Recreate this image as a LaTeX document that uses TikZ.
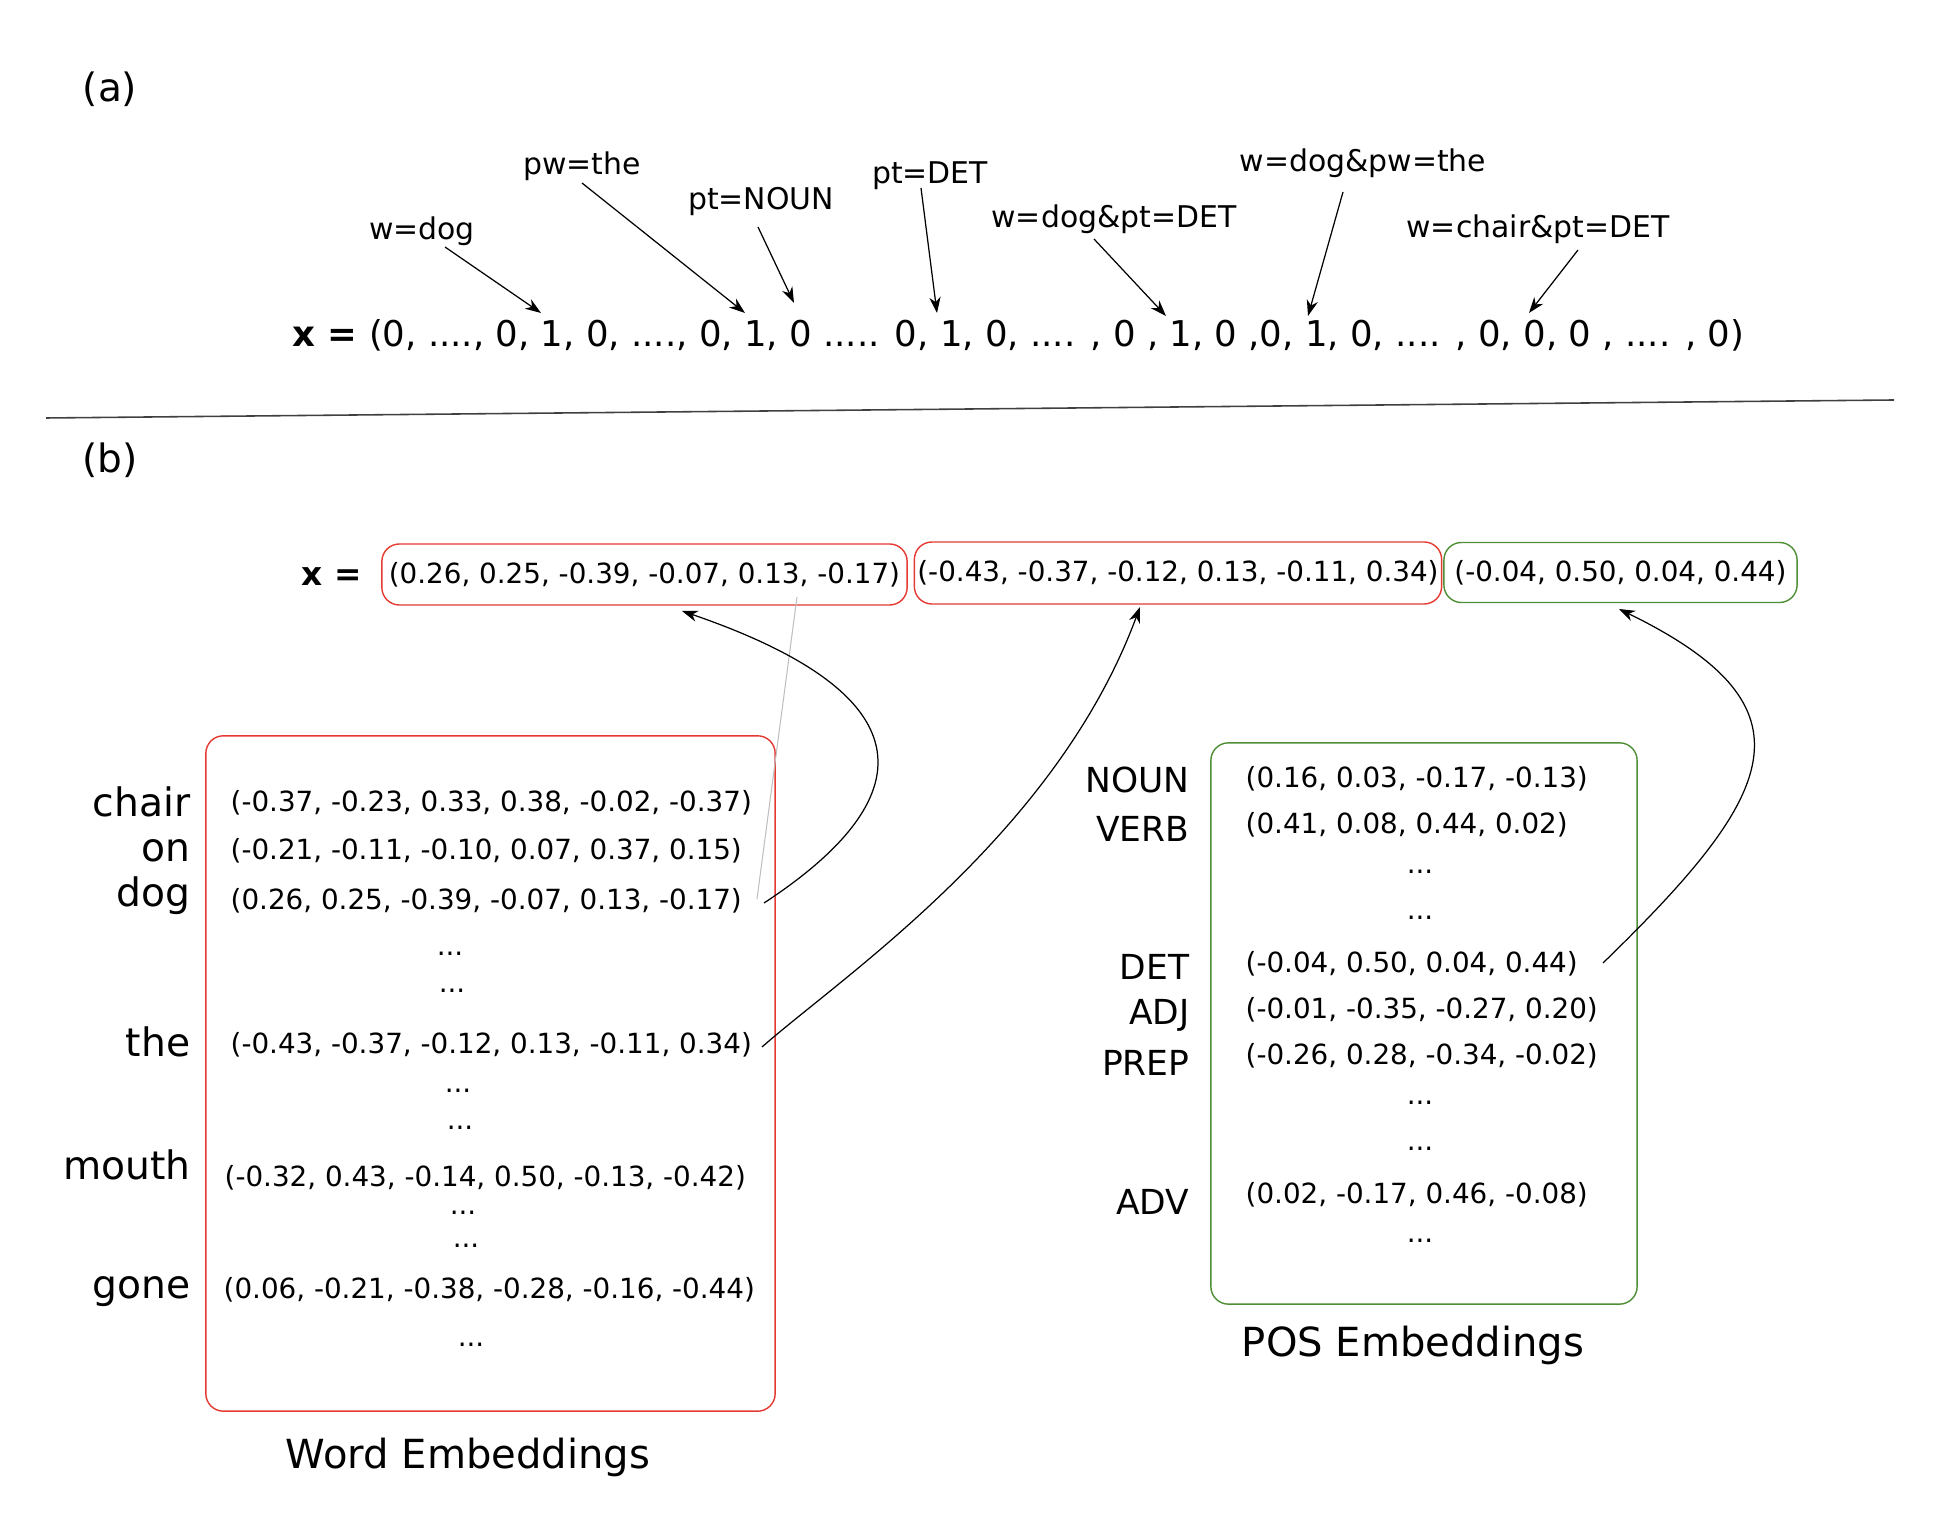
\documentclass[tikz,border=0pt]{standalone}
\usepackage{fontspec}
\setmainfont{DejaVu Sans}
\usepackage{xcolor}
\usepackage{tikz}
\usetikzlibrary{arrows.meta,positioning}
\definecolor{embred}{RGB}{228,58,50}
\definecolor{embgreen}{RGB}{78,142,52}

\begin{document}
\begin{tikzpicture}[x=0.01cm,y=-0.01cm]
\tikzstyle{feat} = [font=\fontsize{8.5}{10}\selectfont, inner sep=0pt, anchor=base]
\tikzstyle{vecrow} = [font=\fontsize{7.9}{9.5}\selectfont, inner sep=0pt, anchor=base west]
\tikzstyle{dotrow} = [font=\fontsize{7.9}{9.5}\selectfont, inner sep=0pt, anchor=base]
\tikzstyle{wordlbl} = [font=\fontsize{11.15}{13}\selectfont, inner sep=0pt, anchor=base east]
\tikzstyle{poslbl} = [font=\fontsize{9.8}{12}\selectfont, inner sep=0pt, anchor=base east]
\tikzstyle{embtitle} = [font=\fontsize{11.4}{14}\selectfont, inner sep=0pt, anchor=base]
\tikzstyle{part} = [font=\fontsize{11.1}{13}\selectfont, inner sep=0pt, anchor=base]
\tikzstyle{redbox} = [draw=embred, rounded corners=5pt, line width=0.4pt, inner sep=0pt]
\tikzstyle{greenbox} = [draw=embgreen, rounded corners=5pt, line width=0.4pt, inner sep=0pt]
\tikzstyle{conn} = [-{Stealth[length=4.5pt,width=3.2pt,inset=1.4pt]}, line width=0.35pt]

\useasboundingbox (0,0) rectangle (1944,1534);

% (a) one-hot features
\node[part] (part-a) at (110,102) {(a)};
\node[font=\fontsize{10.1}{12}\selectfont, inner sep=0pt, anchor=base west] (onehot) at (292,347)
  {\textbf{x =} (0, ...., 0, 1, 0, ...., 0, 1, 0 ..... 0, 1, 0, .... , 0 , 1, 0 ,0, 1, 0, .... , 0, 0, 0 , .... , 0)};

\node[feat] (w-dog) at (422,240) {w=dog};
\node[feat] (pw-the) at (582,175) {pw=the};
\node[feat] (pt-noun) at (761,210) {pt=NOUN};
\node[feat] (pt-det) at (930,184) {pt=DET};
\node[feat] (w-dog-pt) at (1114,228) {w=dog\&pt=DET};
\node[feat] (w-dog-pw) at (1363,172) {w=dog\&pw=the};
\node[feat] (w-chair-pt) at (1538,238) {w=chair\&pt=DET};

\coordinate (hit-1) at (541,313);
\coordinate (hit-2) at (745,313);
\coordinate (hit-3) at (794,303);
\coordinate (hit-4) at (937,313);
\coordinate (hit-5) at (1166,316);
\coordinate (hit-6) at (1308,316);
\coordinate (hit-7) at (1529,313);

\draw [conn] ([shift={(23,7)}]w-dog.base) -- (hit-1);
\draw [conn] ([shift={(0,8)}]pw-the.base) -- (hit-2);
\draw [conn] ([shift={(-3,17)}]pt-noun.base) -- (hit-3);
\draw [conn] ([shift={(-9,4)}]pt-det.base) -- (hit-4);
\draw [conn] ([shift={(-20,11)}]w-dog-pt.base) -- (hit-5);
\draw [conn] ([shift={(-20,20)}]w-dog-pw.base) -- (hit-6);
\draw [conn] ([shift={(40,12)}]w-chair-pt.base) -- (hit-7);

% separator
\draw [black!75, line width=0.45pt] (46,418) -- (1894,400);

% (b) embeddings
\node[part] (part-b) at (110,473) {(b)};
\node[font=\fontsize{9.3}{11}\selectfont\bfseries, inner sep=0pt, anchor=base west] (x-eq) at (301,586) {x =};

\node[redbox, minimum width=5.25cm, minimum height=0.61cm, font=\fontsize{7.9}{9.5}\selectfont] (x-word) at (644.5,574.5) {(0.26, 0.25, -0.39, -0.07, 0.13, -0.17)};
\node[redbox, minimum width=5.27cm, minimum height=0.62cm, font=\fontsize{7.9}{9.5}\selectfont] (x-pword) at (1178,573) {(-0.43, -0.37, -0.12, 0.13, -0.11, 0.34)};
\node[greenbox, minimum width=3.53cm, minimum height=0.6cm, font=\fontsize{7.9}{9.5}\selectfont] (x-tag) at (1620.5,572.5) {(-0.04, 0.50, 0.04, 0.44)};

% word embeddings
\node[redbox, minimum width=5.69cm, minimum height=6.75cm] (word-box) at (490.5,1073.5) {};
\node[embtitle] (word-title) at (468,1469) {Word Embeddings};

\node[wordlbl] (lbl-chair) at (191,817) {chair};
\node[wordlbl] (lbl-on) at (191,862) {on};
\node[wordlbl] (lbl-dog) at (191,907) {dog};
\node[wordlbl] (lbl-the) at (191,1057) {the};
\node[wordlbl] (lbl-mouth) at (191,1180) {mouth};
\node[wordlbl] (lbl-gone) at (191,1299) {gone};

\node[vecrow] (vec-chair) at (230,812) {(-0.37, -0.23, 0.33, 0.38, -0.02, -0.37)};
\node[vecrow] (vec-on) at (230,860) {(-0.21, -0.11, -0.10, 0.07, 0.37, 0.15)};
\node[vecrow] (vec-dog) at (230,910) {(0.26, 0.25, -0.39, -0.07, 0.13, -0.17)};
\node[dotrow] (wdots-1) at (450,956) {...};
\node[dotrow] (wdots-2) at (452,993) {...};
\node[vecrow] (vec-the) at (230,1054) {(-0.43, -0.37, -0.12, 0.13, -0.11, 0.34)};
\node[dotrow] (wdots-3) at (458,1093) {...};
\node[dotrow] (wdots-4) at (460,1130) {...};
\node[vecrow] (vec-mouth) at (224,1187) {(-0.32, 0.43, -0.14, 0.50, -0.13, -0.42)};
\node[dotrow] (wdots-5) at (463,1215) {...};
\node[dotrow] (wdots-6) at (466,1248) {...};
\node[vecrow] (vec-gone) at (223,1299) {(0.06, -0.21, -0.38, -0.28, -0.16, -0.44)};
\node[dotrow] (wdots-7) at (471,1347) {...};

% POS embeddings
\node[greenbox, minimum width=4.26cm, minimum height=5.61cm] (pos-box) at (1424,1023.5) {};
\node[embtitle] (pos-title) at (1413,1357) {POS Embeddings};

\node[poslbl] (lbl-noun) at (1190,793) {NOUN};
\node[poslbl] (lbl-verb) at (1190,842) {VERB};
\node[poslbl] (lbl-det) at (1190,980) {DET};
\node[poslbl] (lbl-adj) at (1190,1025) {ADJ};
\node[poslbl] (lbl-prep) at (1190,1076) {PREP};
\node[poslbl] (lbl-adv) at (1190,1215) {ADV};

\node[vecrow] (vec-noun) at (1245,788) {(0.16, 0.03, -0.17, -0.13)};
\node[vecrow] (vec-verb) at (1245,834) {(0.41, 0.08, 0.44, 0.02)};
\node[dotrow] (pdots-1) at (1420,874) {...};
\node[dotrow] (pdots-2) at (1420,920) {...};
\node[vecrow] (vec-det) at (1245,973) {(-0.04, 0.50, 0.04, 0.44)};
\node[vecrow] (vec-adj) at (1245,1019) {(-0.01, -0.35, -0.27, 0.20)};
\node[vecrow] (vec-prep) at (1245,1065) {(-0.26, 0.28, -0.34, -0.02)};
\node[dotrow] (pdots-3) at (1420,1105) {...};
\node[dotrow] (pdots-4) at (1420,1151) {...};
\node[vecrow] (vec-adv) at (1245,1204) {(0.02, -0.17, 0.46, -0.08)};
\node[dotrow] (pdots-5) at (1420,1243) {...};

% lookups
\coordinate (from-dog) at (764,903);
\coordinate (from-the) at (762,1047);
\coordinate (from-det) at (1603,963);
\coordinate (to-word) at (682,611);
\coordinate (to-pword) at (1140,607);
\coordinate (to-tag) at (1619,609);

\draw [black!25, line width=0.3pt] (797,597) -- (757,899);
\draw [conn] (from-dog) .. controls (897,816) and (959,706) .. (to-word);
\draw [conn] (from-the) .. controls (844,975) and (1056,834) .. (to-pword);
\draw [conn] (from-det) .. controls (1776,795) and (1822,708) .. (to-tag);
\end{tikzpicture}
\end{document}
